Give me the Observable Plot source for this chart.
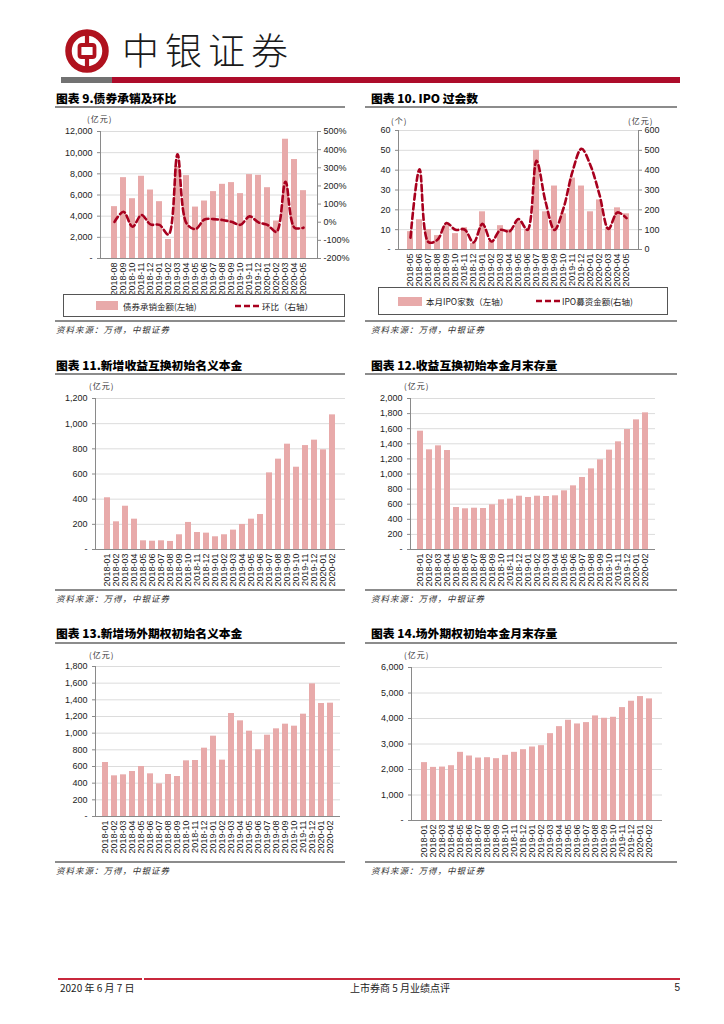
<!DOCTYPE html>
<html><head><meta charset="utf-8">
<script src="https://cdn.jsdelivr.net/npm/d3@7"></script>
<script src="https://cdn.jsdelivr.net/npm/@observablehq/plot@0.6"></script>
<style>
body{margin:0;background:#fff;}
#page{position:relative;width:724px;height:1024px;overflow:hidden;font-family:"Liberation Sans",Arial,sans-serif;color:#222;}
.a{position:absolute;white-space:nowrap;}
.title{font-family:"Noto Sans CJK SC",sans-serif;font-weight:900;font-size:11.8px;line-height:14px;color:#000;}
.unit{font-family:"Noto Sans CJK SC",sans-serif;font-size:8px;line-height:10px;color:#333;letter-spacing:1px;}
.src{font-family:"Noto Sans CJK SC",sans-serif;font-size:8.5px;line-height:10px;color:#333;font-style:italic;letter-spacing:1px;}
.hr{position:absolute;height:1.5px;background:#8c8c8c;}
.legend{position:absolute;border:1px solid #555;box-sizing:border-box;font-family:"Noto Sans CJK SC",sans-serif;font-size:8.5px;color:#222;}
.legend span{position:absolute;line-height:10px;}
svg.plot{position:absolute;overflow:visible;}
</style></head>
<body><div id="page"></div>
<script>
// ---------- data ----------
const months9 = ["2018-08","2018-09","2018-10","2018-11","2018-12","2019-01","2019-02","2019-03","2019-04","2019-05","2019-06","2019-07","2019-08","2019-09","2019-10","2019-11","2019-12","2020-01","2020-02","2020-03","2020-04","2020-05"];
const bondAmount = [4900,7640,5650,7770,6470,5370,1800,8700,7830,4860,5430,6320,7010,7170,6130,7930,7860,6690,3540,11270,9350,6410];
const bondMoM = [2,58,-25,40,-12,-15,-68,374,-6,-38,15,17,12,2,-14,32,-1,-15,-53,223,-30,-30];
const months10 = ["2018-05","2018-06","2018-07","2018-08","2018-09","2018-10","2018-11","2018-12","2019-01","2019-02","2019-03","2019-04","2019-05","2019-06","2019-07","2019-08","2019-09","2019-10","2019-11","2019-12","2020-01","2020-02","2020-03","2020-04","2020-05"];
const ipoCount = [9,15,10,7,12,8,11,3,19,4,12,10,14,10,50,19,32,18,36,32,19,25,11,21,18];
const ipoFunds = [60,405,37,49,133,99,101,35,129,40,99,91,153,99,447,242,99,208,393,508,424,276,104,187,158];
const months26 = ["2018-01","2018-02","2018-03","2018-04","2018-05","2018-06","2018-07","2018-08","2018-09","2018-10","2018-11","2018-12","2019-01","2019-02","2019-03","2019-04","2019-05","2019-06","2019-07","2019-08","2019-09","2019-10","2019-11","2019-12","2020-01","2020-02"];
const trsNew = [411,220,344,241,69,66,69,64,117,215,135,130,101,117,154,199,241,278,609,718,837,654,826,869,792,1070];
const trsStock = [1567,1320,1373,1311,556,539,547,543,592,658,667,706,689,706,702,711,777,843,954,1068,1188,1316,1426,1589,1717,1810];
const otcNew = [648,488,500,540,600,512,392,504,480,668,672,820,964,676,1236,1148,1024,800,976,1052,1108,1084,1228,1592,1356,1360];
const otcStock = [2270,2083,2096,2149,2673,2529,2450,2463,2424,2555,2673,2777,2882,2935,3406,3681,3930,3786,3839,4101,4009,4048,4428,4677,4860,4769];
const ticks9L = [0,2000,4000,6000,8000,10000,12000];
const ticks9R = [-200,-100,0,100,200,300,400,500];
const ticks10L = [0,10,20,30,40,50,60];
const ticks10R = [0,100,200,300,400,500,600];
const ticks11 = [0,200,400,600,800,1000,1200];
const ticks12 = [0,200,400,600,800,1000,1200,1400,1600,1800,2000];
const ticks13 = [0,200,400,600,800,1000,1200,1400,1600,1800];
const ticks14 = [0,1000,2000,3000,4000,5000,6000];

// ---------- styles ----------
const BAR = "#E8AAAA";
const LINE = "#A8001E";
const GRID = "#dcdcdc";
const AX = "#8a8a8a";
const fmtL = d => d === 0 ? "-" : d3.format(",")(d);
const page = document.getElementById("page");

function el(html){const d=document.createElement("div");d.innerHTML=html;while(d.firstChild)page.appendChild(d.firstChild);}
function place(svg,left,top){svg.classList.add("plot");svg.style.left=left+"px";svg.style.top=top+"px";page.appendChild(svg);}

const baseStyle = {fontFamily:"'Liberation Sans', Arial, sans-serif",fontSize:"9px",color:"#222",background:"transparent",overflow:"visible"};

function barChart(months, values, o){
  const rows = months.map((m,i)=>({m, v: values[i]}));
  return Plot.plot({
    width:o.width,height:o.height,marginLeft:o.ml,marginRight:o.mr,marginTop:o.mt,marginBottom:o.mb,
    style:baseStyle,
    x:{domain:months,paddingInner:0.3,paddingOuter:0.15,label:null},
    y:{domain:[0,o.ticks[o.ticks.length-1]],label:null},
    marks:[
      Plot.gridY(o.ticks.slice(1),{stroke:GRID,strokeOpacity:1}),
      Plot.barY(rows,{x:"m",y:"v",fill:BAR}),
      Plot.ruleY([0],{stroke:AX}),
      Plot.frame({anchor:"left",stroke:AX}),
      Plot.axisY(o.ticks,{tickFormat:fmtL,tickSize:3,tickPadding:5,stroke:AX,fill:"#222",fontSize:9}),
      Plot.axisX({tickRotate:-90,tickSize:0,tickPadding:4,fill:"#222",fontSize:9})
    ]
  });
}

function comboChart(months, bars, line, o){
  const lmax = o.ticksL[o.ticksL.length-1];
  const r0 = o.ticksR[0], r1 = o.ticksR[o.ticksR.length-1];
  const toL = r => (r - r0) / (r1 - r0) * lmax;
  const fromL = v => v / lmax * (r1 - r0) + r0;
  const rows = months.map((m,i)=>({m, v: bars[i], r: line[i]}));
  return Plot.plot({
    width:o.width,height:o.height,marginLeft:o.ml,marginRight:o.mr,marginTop:o.mt,marginBottom:o.mb,
    style:baseStyle,
    x:{domain:months,paddingInner:0.3,paddingOuter:0.15,label:null},
    y:{domain:[0,lmax],label:null},
    marks:[
      Plot.gridY(o.ticksL.slice(1),{stroke:GRID,strokeOpacity:1}),
      Plot.barY(rows,{x:"m",y:"v",fill:BAR}),
      Plot.lineY(rows,{x:"m",y:d=>toL(d.r),stroke:LINE,strokeWidth:2.6,strokeDasharray:"6,3.5",curve:"catmull-rom"}),
      Plot.ruleY([0],{stroke:AX}),
      Plot.frame({anchor:"left",stroke:AX}),
      Plot.frame({anchor:"right",stroke:AX}),
      Plot.axisY(o.ticksL,{tickFormat:o.fmtL,tickSize:3,tickPadding:5,stroke:AX,fill:"#222",fontSize:9}),
      Plot.axisY(o.ticksR.map(toL),{anchor:"right",tickFormat:d=>o.fmtR(Math.round(fromL(d))),tickSize:3,tickPadding:3,stroke:AX,fill:"#222",fontSize:9,label:null}),
      Plot.axisX({tickRotate:-90,tickSize:0,tickPadding:4,fill:"#222",fontSize:9})
    ]
  });
}

// ---------- header ----------
el(`<svg class="a" style="left:61px;top:25px" width="52" height="52" viewBox="0 0 52 52">
  <circle cx="26" cy="26" r="18.5" fill="none" stroke="#B0121E" stroke-width="6.5"/>
  <rect x="18.5" y="20" width="15" height="12" rx="2" fill="none" stroke="#B0121E" stroke-width="3.8"/>
  <line x1="26" y1="9" x2="26" y2="20" stroke="#B0121E" stroke-width="4.2"/>
  <line x1="26" y1="32" x2="26" y2="43" stroke="#B0121E" stroke-width="4.2"/>
</svg>`);
el(`<div class="a" style="left:122px;top:26px;font-family:'Noto Sans CJK SC';font-size:37px;line-height:46px;letter-spacing:6px;color:#1a1a1a;font-weight:300">中银证券</div>`);
el(`<div class="a" style="left:61px;top:77px;width:51px;height:6px;background:#727272"></div>`);
el(`<div class="a" style="left:112px;top:77px;width:568px;height:6px;background:#AD0C2A"></div>`);

// ---------- chart 9 ----------
el(`<div class="a title" style="left:56px;top:91px">图表 9.债券承销及环比</div>`);
el(`<div class="hr" style="left:55px;top:106px;width:290px"></div>`);
el(`<div class="a unit" style="left:87px;top:114px">(亿元)</div>`);
place(comboChart(months9,bondAmount,bondMoM,{width:290,height:182,ml:45,mr:28,mt:19,mb:36,
  ticksL:ticks9L,ticksR:ticks9R,fmtL:fmtL,fmtR:d=>d+"%"}),55,112);
el(`<div class="legend" style="left:63px;top:294px;width:282px;height:23px">
  <span style="left:32px;top:6px;width:22px;height:9px;background:${BAR}"></span>
  <span style="left:59px;top:6px">债券承销金额(左轴)</span>
  <svg style="position:absolute;left:170px;top:6px" width="26" height="10"><line x1="1" y1="5" x2="25" y2="5" stroke="${LINE}" stroke-width="2.6" stroke-dasharray="6,3"/></svg>
  <span style="left:198px;top:6px">环比（右轴）</span>
</div>`);
el(`<div class="hr" style="left:55px;top:320px;width:290px;height:2px"></div>`);
el(`<div class="a src" style="left:56px;top:324px">资料来源：万得，中银证券</div>`);

// ---------- chart 10 ----------
el(`<div class="a title" style="left:371px;top:91px">图表 10. IPO 过会数</div>`);
el(`<div class="hr" style="left:365px;top:106px;width:312px"></div>`);
el(`<div class="a unit" style="left:391px;top:116px">(个)</div>`);
el(`<div class="a unit" style="left:628px;top:116px">(亿元)</div>`);
place(comboChart(months10,ipoCount,ipoFunds,{width:312,height:170,ml:33,mr:39,mt:15,mb:36,
  ticksL:ticks10L,ticksR:ticks10R,fmtL:d=>d===0?"-":String(d),fmtR:d=>String(d)}),365,115);
el(`<div class="legend" style="left:378px;top:287px;width:290px;height:28px">
  <span style="left:19px;top:9px;width:24px;height:9px;background:${BAR}"></span>
  <span style="left:47px;top:8px">本月IPO家数（左轴）</span>
  <svg style="position:absolute;left:156px;top:8px" width="26" height="10"><line x1="1" y1="5" x2="25" y2="5" stroke="${LINE}" stroke-width="2.6" stroke-dasharray="6,3"/></svg>
  <span style="left:183px;top:8px">IPO募资金额(右轴)</span>
</div>`);
el(`<div class="hr" style="left:365px;top:320px;width:312px;height:2px"></div>`);
el(`<div class="a src" style="left:371px;top:324px">资料来源：万得，中银证券</div>`);

// ---------- chart 11 ----------
el(`<div class="a title" style="left:56px;top:358px">图表 11.新增收益互换初始名义本金</div>`);
el(`<div class="hr" style="left:55px;top:373px;width:290px"></div>`);
el(`<div class="a unit" style="left:89px;top:381px">(亿元)</div>`);
place(barChart(months26,trsNew,{width:300,height:196,ml:45,mr:5,mt:10,mb:35,ticks:ticks11}),50,388);
el(`<div class="hr" style="left:55px;top:589px;width:290px;height:2px"></div>`);
el(`<div class="a src" style="left:56px;top:593px">资料来源：万得，中银证券</div>`);

// ---------- chart 12 ----------
el(`<div class="a title" style="left:371px;top:358px">图表 12.收益互换初始本金月末存量</div>`);
el(`<div class="hr" style="left:365px;top:373px;width:312px"></div>`);
el(`<div class="a unit" style="left:404px;top:381px">(亿元)</div>`);
place(barChart(months26,trsStock,{width:300,height:196,ml:45,mr:10,mt:10,mb:35,ticks:ticks12}),365,388);
el(`<div class="hr" style="left:365px;top:589px;width:312px;height:2px"></div>`);
el(`<div class="a src" style="left:371px;top:593px">资料来源：万得，中银证券</div>`);

// ---------- chart 13 ----------
el(`<div class="a title" style="left:56px;top:626px">图表 13.新增场外期权初始名义本金</div>`);
el(`<div class="hr" style="left:55px;top:642px;width:290px"></div>`);
el(`<div class="a unit" style="left:89px;top:650px">(亿元)</div>`);
place(barChart(months26,otcNew,{width:300,height:195,ml:45,mr:10,mt:10,mb:35,ticks:ticks13}),50,656);
el(`<div class="hr" style="left:55px;top:861px;width:290px;height:2px"></div>`);
el(`<div class="a src" style="left:56px;top:865px">资料来源：万得，中银证券</div>`);

// ---------- chart 14 ----------
el(`<div class="a title" style="left:371px;top:626px">图表 14.场外期权初始本金月末存量</div>`);
el(`<div class="hr" style="left:365px;top:642px;width:312px"></div>`);
el(`<div class="a unit" style="left:404px;top:650px">(亿元)</div>`);
place(barChart(months26,otcStock,{width:300,height:198,ml:46,mr:3,mt:10,mb:35,ticks:ticks14}),365,657);
el(`<div class="hr" style="left:365px;top:861px;width:312px;height:2px"></div>`);
el(`<div class="a src" style="left:371px;top:865px">资料来源：万得，中银证券</div>`);

// ---------- footer ----------
el(`<div class="a" style="left:58px;top:978px;width:84px;height:2px;background:#C8283C"></div>`);
el(`<div class="a" style="left:144px;top:978px;width:536px;height:2px;background:#C8283C"></div>`);
el(`<div class="a" style="left:60px;top:982px;font-family:'Liberation Sans Narrow','Noto Sans CJK SC';font-size:10px;line-height:12px">2020 年 6 月 7 日</div>`);
el(`<div class="a" style="left:300px;width:200px;text-align:center;top:982px;font-family:'Noto Sans CJK SC';font-size:10px;line-height:12px">上市券商 5 月业绩点评</div>`);
el(`<div class="a" style="left:660px;width:20px;text-align:right;top:982px;font-family:'Liberation Sans Narrow','Liberation Sans';font-size:10px;line-height:12px">5</div>`);
</script>
</body></html>
